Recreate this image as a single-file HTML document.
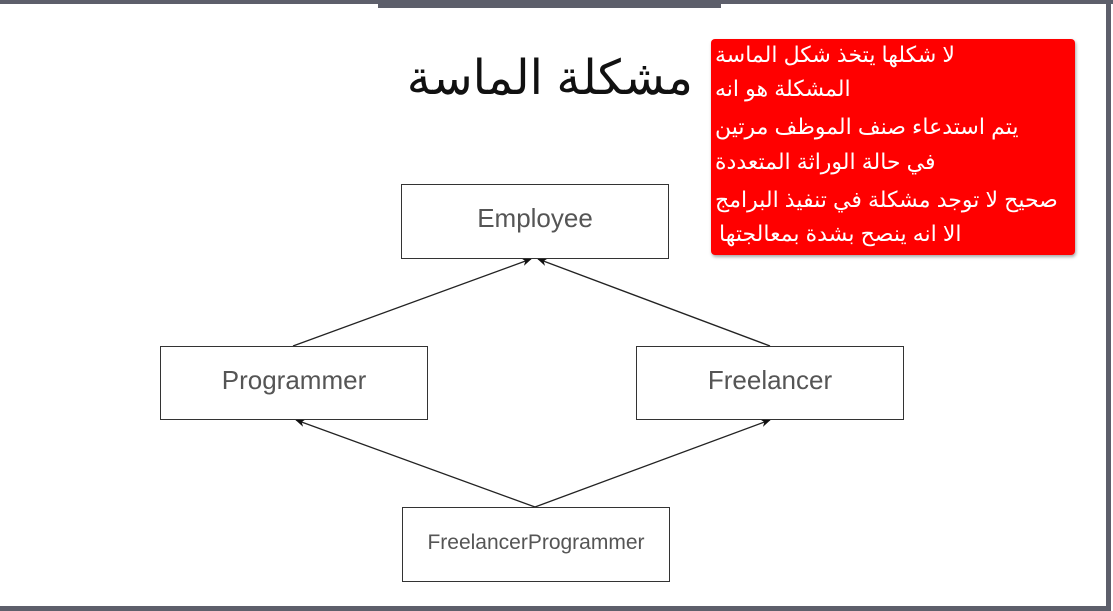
<!DOCTYPE html>
<html><head><meta charset="utf-8"><style>
html,body{margin:0;padding:0}
body{width:1113px;height:611px;position:relative;overflow:hidden;background:#fff;font-family:"Liberation Sans","DejaVu Sans",sans-serif}
.b{position:absolute;box-sizing:border-box;border:1.5px solid #333;display:flex;align-items:center;justify-content:center;color:#555;font-size:26px;background:#fff}
.l{position:absolute;left:715px;color:#fff;font-size:22px;white-space:nowrap;direction:rtl;unicode-bidi:embed;line-height:26px}
</style></head><body>
<div style="position:absolute;left:0;top:0;width:1113px;height:4px;background:#5d5f6b"></div>
<div style="position:absolute;left:378px;top:0;width:343px;height:8px;background:#5d5f6b"></div>
<div style="position:absolute;left:1106px;top:0;width:5px;height:611px;background:#5d5f6b"></div>
<div style="position:absolute;left:0;top:606px;width:1111px;height:5px;background:#5d5f6b"></div>
<div style="position:absolute;left:395px;top:50px;font-size:48px;color:#111;direction:rtl;width:298px;text-align:right">مشكلة الماسة</div>
<svg style="position:absolute;left:0;top:0" width="1113" height="611">
<defs><marker id="a" markerWidth="10" markerHeight="8" refX="9" refY="4" orient="auto" markerUnits="userSpaceOnUse"><path d="M0,0 L10,4 L0,8 L3,4z" fill="#111"/></marker></defs>
<g stroke="#222" stroke-width="1.3" fill="none" marker-end="url(#a)">
<line x1="293" y1="346" x2="531" y2="259"/>
<line x1="770" y1="346" x2="538" y2="259"/>
<line x1="535" y1="507" x2="296" y2="420"/>
<line x1="535" y1="507" x2="770" y2="420"/>
</g></svg>
<div class="b" style="left:401px;top:184px;width:268px;height:75px;padding-bottom:6px">Employee</div>
<div class="b" style="left:160px;top:346px;width:268px;height:74px;padding-bottom:6px">Programmer</div>
<div class="b" style="left:636px;top:346px;width:268px;height:74px;padding-bottom:6px">Freelancer</div>
<div class="b" style="left:402px;top:507px;width:268px;height:75px;font-size:21px;padding-bottom:4px">FreelancerProgrammer</div>
<div style="position:absolute;left:711px;top:39px;width:364px;height:216px;background:#f00;border-radius:4px;box-shadow:1px 2px 3px rgba(0,0,0,.35)"></div>
<div class="l" style="top:42px">لا شكلها يتخذ شكل الماسة</div>
<div class="l" style="top:76px">المشكلة هو انه</div>
<div class="l" style="top:114px">يتم استدعاء صنف الموظف مرتين</div>
<div class="l" style="top:149px">في حالة الوراثة المتعددة</div>
<div class="l" style="top:187px">صحيح لا توجد مشكلة في تنفيذ البرامج</div>
<div class="l" style="top:221px;left:719px">الا انه ينصح بشدة بمعالجتها</div>
</body></html>
